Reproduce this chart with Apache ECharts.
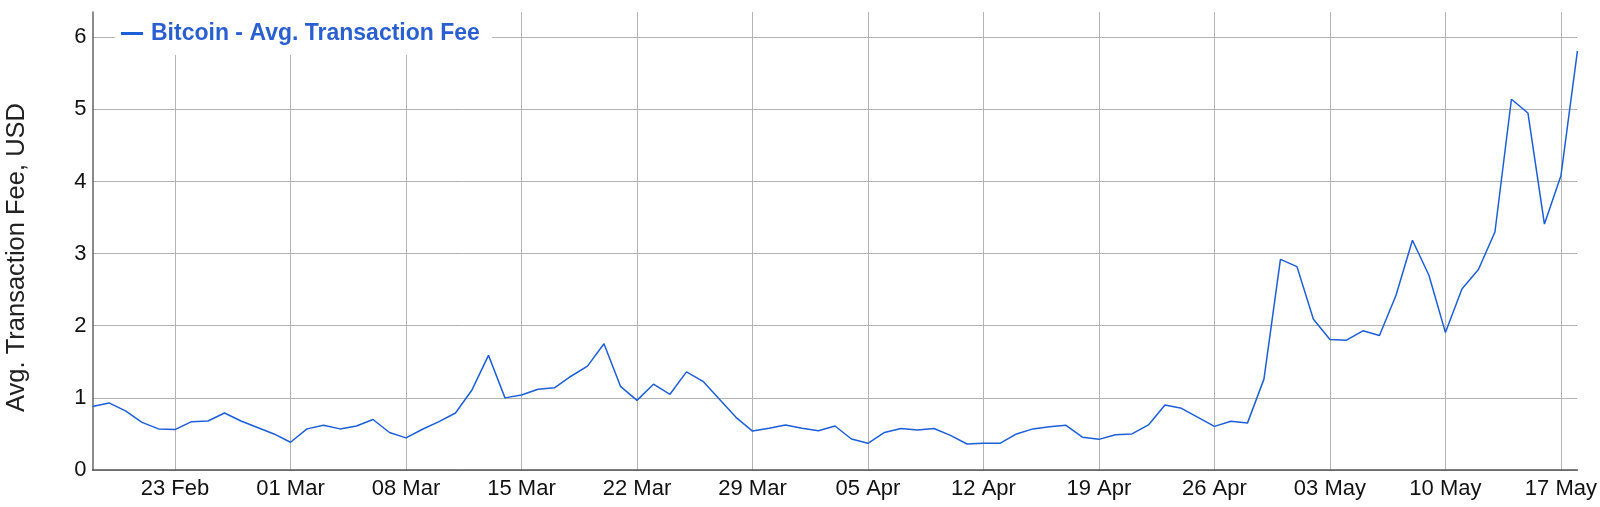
<!DOCTYPE html>
<html>
<head>
<meta charset="utf-8">
<script src="https://cdn.jsdelivr.net/npm/echarts@6/dist/echarts.min.js"></script>
<style>
  html, body { margin: 0; padding: 0; background: #ffffff; }
  #chart { width: 1600px; height: 507px; }
</style>
</head>
<body>
<div id="chart"></div>
<script>
const dates = [
  '18 Feb','19 Feb','20 Feb','21 Feb','22 Feb','23 Feb','24 Feb','25 Feb','26 Feb','27 Feb','28 Feb','29 Feb',
  '01 Mar','02 Mar','03 Mar','04 Mar','05 Mar','06 Mar','07 Mar','08 Mar','09 Mar','10 Mar','11 Mar','12 Mar','13 Mar','14 Mar','15 Mar','16 Mar','17 Mar','18 Mar','19 Mar','20 Mar','21 Mar','22 Mar','23 Mar','24 Mar','25 Mar','26 Mar','27 Mar','28 Mar','29 Mar','30 Mar','31 Mar',
  '01 Apr','02 Apr','03 Apr','04 Apr','05 Apr','06 Apr','07 Apr','08 Apr','09 Apr','10 Apr','11 Apr','12 Apr','13 Apr','14 Apr','15 Apr','16 Apr','17 Apr','18 Apr','19 Apr','20 Apr','21 Apr','22 Apr','23 Apr','24 Apr','25 Apr','26 Apr','27 Apr','28 Apr','29 Apr','30 Apr',
  '01 May','02 May','03 May','04 May','05 May','06 May','07 May','08 May','09 May','10 May','11 May','12 May','13 May','14 May','15 May','16 May','17 May','18 May'
];
const tickLabels = ['23 Feb','01 Mar','08 Mar','15 Mar','22 Mar','29 Mar','05 Apr','12 Apr','19 Apr','26 Apr','03 May','10 May','17 May'];
const fees = [
  0.88, 0.93, 0.82, 0.66, 0.57, 0.56, 0.67, 0.68, 0.79, 0.68, 0.59, 0.50,
  0.385, 0.57, 0.62, 0.57, 0.61, 0.70, 0.52, 0.445, 0.565, 0.67, 0.79, 1.11, 1.59, 1.00, 1.04, 1.12, 1.14, 1.30, 1.44, 1.75, 1.16, 0.965, 1.19, 1.05, 1.36, 1.23, 0.98, 0.73, 0.54, 0.58, 0.625,
  0.58, 0.545, 0.61, 0.43, 0.37, 0.52, 0.575, 0.555, 0.575, 0.48, 0.36, 0.37, 0.37, 0.50, 0.57, 0.60, 0.62, 0.455, 0.425, 0.49, 0.50, 0.625, 0.90, 0.855, 0.73, 0.605, 0.675, 0.65, 1.26, 2.92,
  2.82, 2.09, 1.81, 1.80, 1.93, 1.865, 2.42, 3.185, 2.70, 1.905, 2.51, 2.78, 3.30, 5.14, 4.95, 3.41, 4.08, 5.81
];
const seriesName = 'Bitcoin - Avg. Transaction Fee';
const yTitle = 'Avg. Transaction Fee, USD';

const isTick = (idx) => tickLabels.indexOf(dates[idx]) !== -1;
const FONT = "'Liberation Sans', Arial, Helvetica, sans-serif";

const chart = echarts.init(document.getElementById('chart'), null, { renderer: 'canvas' });
chart.setOption({
  animation: false,
  backgroundColor: '#ffffff',
  grid: { left: 92.5, right: 8, top: 12, bottom: 37, containLabel: false },
  legend: {
    data: [seriesName],
    left: 115, top: 12,
    padding: [10, 12, 10, 6],
    backgroundColor: '#ffffff',
    icon: 'rect', itemWidth: 22, itemHeight: 3,
    textStyle: { color: '#2a5fd0', fontWeight: 'bold', fontSize: 23, fontFamily: FONT, padding: [0, 0, 0, 3] }
  },
  xAxis: {
    type: 'category',
    data: dates,
    boundaryGap: false,
    axisLine: { show: true, lineStyle: { color: '#555555', width: 1.5 } },
    axisTick: { show: false },
    axisLabel: {
      interval: (idx) => isTick(idx),
      color: '#111111', fontSize: 22, fontFamily: FONT, margin: 8
    },
    splitLine: {
      show: true,
      interval: (idx) => isTick(idx),
      lineStyle: { color: '#b3b3b3', width: 1 }
    }
  },
  yAxis: {
    type: 'value',
    min: 0, max: 6.35, interval: 1,
    axisLine: { show: true, lineStyle: { color: '#666666', width: 1.5 } },
    axisTick: { show: false },
    axisLabel: { color: '#111111', fontSize: 22, fontFamily: FONT, margin: 6, showMaxLabel: false },
    splitLine: { show: true, showMaxLine: false, lineStyle: { color: '#b3b3b3', width: 1 } }
  },
  graphic: [{
    type: 'text',
    x: 17, y: 257.5,
    rotation: Math.PI / 2,
    style: { text: yTitle, fill: '#222222', fontSize: 25.5, fontFamily: FONT, align: 'center', verticalAlign: 'middle' }
  }],
  series: [{
    name: seriesName,
    type: 'line',
    data: fees,
    symbol: 'none',
    color: '#1c5ed6',
    lineStyle: { color: '#1c5ed6', width: 1.5 }
  }]
});
</script>
</body>
</html>
